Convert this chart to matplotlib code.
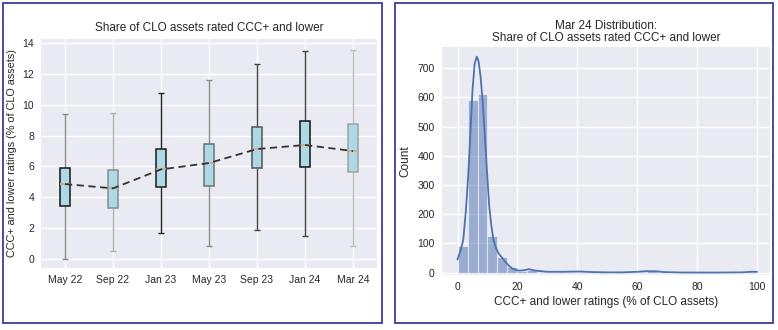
import matplotlib
matplotlib.use("Agg")
import matplotlib.pyplot as plt
from matplotlib.patches import Rectangle
import numpy as np

plt.rcParams['font.family'] = ['Liberation Sans', 'DejaVu Sans']

# ---- Left panel data: box statistics (% of CLO assets) ----
periods = ["May 22", "Sep 22", "Jan 23", "May 23", "Sep 23", "Jan 24", "Mar 24"]
whisker_low = [0.0, 0.54, 1.66, 0.84, 1.90, 1.47, 0.86]
q1 = [3.43, 3.29, 4.65, 4.75, 5.88, 5.94, 5.62]
medians = [4.86, 4.58, 5.81, 6.22, 7.13, 7.39, 7.00]
q3 = [5.92, 5.77, 7.15, 7.45, 8.57, 8.96, 8.77]
whisker_high = [9.38, 9.44, 10.78, 11.60, 12.62, 13.48, 13.52]
box_edge_colors = ["#151515", "#8a8a8a", "#1a1a1a", "#707070", "#555555", "#111111", "#a0a0a0"]
whisker_colors = ["#8a8a8a", "#b0b0b0", "#222222", "#8a8a8a", "#444444", "#444444", "#bdbdbd"]

# ---- Right panel data: Mar 24 histogram (30 bins, 0..100) ----
bin_edges = list(np.linspace(0, 100, 31))
bin_counts = [91, 591, 611, 126, 55, 20, 6, 8, 3, 2, 1, 2, 3, 1, 1,
              0, 1, 1, 3, 4, 2, 0, 0, 0, 0, 0, 0, 0, 0, 2]
kde_x = [0.0, 1.0, 1.9, 2.8, 3.6, 4.3, 5.0, 5.7, 6.4, 7.0, 7.7, 8.5, 9.2, 9.9,
         10.6, 11.3, 12.0, 12.8, 13.7, 14.8, 15.9, 17.0, 18.2, 19.3, 20.4,
         22.0, 23.8, 26.0, 30.0, 35.0, 41.0, 45.0, 50.0, 55.0, 60.0, 63.0,
         66.0, 69.0, 75.0, 85.0, 95.0, 98.0, 100.0]
kde_y = [46, 75, 112, 215, 340, 480, 626, 715, 740, 725, 671, 570, 454, 335,
         226, 160, 112, 85, 66, 52, 38, 25, 15, 10, 7,
         8, 12, 7, 3, 3, 4, 2, 1, 1, 3, 5,
         5, 2, 0.5, 0.3, 1, 3, 3]

BG = "#eaeaf2"
TXT = "#262626"
FRAME = "#3b3ba6"

fig = plt.figure(figsize=(7.78, 3.30), dpi=100)
fig.patch.set_facecolor("white")

# frames
fig.patches.append(Rectangle((3/778, 1-323/330), (382-3)/778, (323-3)/330,
                             transform=fig.transFigure, fill=False,
                             edgecolor=FRAME, linewidth=1.3))
fig.patches.append(Rectangle((395/778, 1-323/330), (773-395)/778, (323-3)/330,
                             transform=fig.transFigure, fill=False,
                             edgecolor=FRAME, linewidth=1.3))

def style(ax):
    ax.set_facecolor(BG)
    ax.grid(True, color="white", linewidth=1.0)
    ax.set_axisbelow(True)
    for s in ax.spines.values():
        s.set_visible(False)
    ax.tick_params(length=0, labelsize=7.5, labelcolor=TXT, pad=5)

# ---- Left ----
ax1 = fig.add_axes([41/778, 1-268/330, (377-41)/778, (268-39)/330])
style(ax1)
pos = np.arange(1, len(periods) + 1)
bw = 0.21
for i, p in enumerate(pos):
    ax1.vlines(p, whisker_low[i], q1[i], color=whisker_colors[i], lw=1.0, zorder=2)
    ax1.vlines(p, q3[i], whisker_high[i], color=whisker_colors[i], lw=1.0, zorder=2)
    ax1.hlines([whisker_low[i], whisker_high[i]], p - bw/4, p + bw/4,
               color=whisker_colors[i], lw=1.0, zorder=2)
    ax1.add_patch(Rectangle((p - bw/2, q1[i]), bw, q3[i] - q1[i],
                            facecolor="#add8e6", edgecolor=box_edge_colors[i],
                            lw=1.1, zorder=3))
    ax1.hlines(medians[i], p - bw/2, p + bw/2, color="#e0a080", lw=1.1, zorder=4)
ax1.plot(pos, medians, linestyle=(0, (4, 2.5)), color="#333333", lw=1.3, zorder=5)
ax1.set_xlim(0.5, 7.5)
ax1.set_ylim(-0.58, 14.26)
ax1.set_xticks(pos)
ax1.set_xticklabels(periods)
ax1.set_yticks(np.arange(0, 15, 2))
ax1.set_title("Share of CLO assets rated CCC+ and lower", fontsize=8.5, color=TXT, pad=6)
ax1.set_ylabel("CCC+ and lower ratings (% of CLO assets)", fontsize=7.8, color=TXT, labelpad=4)

# ---- Right ----
ax2 = fig.add_axes([441.7/778, 1-275/330, (770-441.7)/778, (275-46.7)/330])
style(ax2)
lefts = bin_edges[:-1]
widths = np.diff(bin_edges)
ax2.bar(lefts, bin_counts, width=widths, align="edge", color="#4c72b0",
        alpha=0.5, edgecolor="white", linewidth=0.8, zorder=2)
ax2.plot(kde_x, kde_y, color="#4c72b0", lw=1.3, zorder=3)
ax2.set_xlim(-5.3, 104.4)
ax2.set_ylim(-8, 774)
ax2.set_xticks(np.arange(0, 101, 20))
ax2.set_yticks(np.arange(0, 701, 100))
ax2.set_title("Mar 24 Distribution:\nShare of CLO assets rated CCC+ and lower",
              fontsize=8.5, color=TXT, pad=4, linespacing=1.0)
ax2.set_ylabel("Count", fontsize=8.5, color=TXT, labelpad=4)
ax2.set_xlabel("CCC+ and lower ratings (% of CLO assets)", fontsize=8.5, color=TXT, labelpad=3)

fig.savefig("out.png", dpi=100)
